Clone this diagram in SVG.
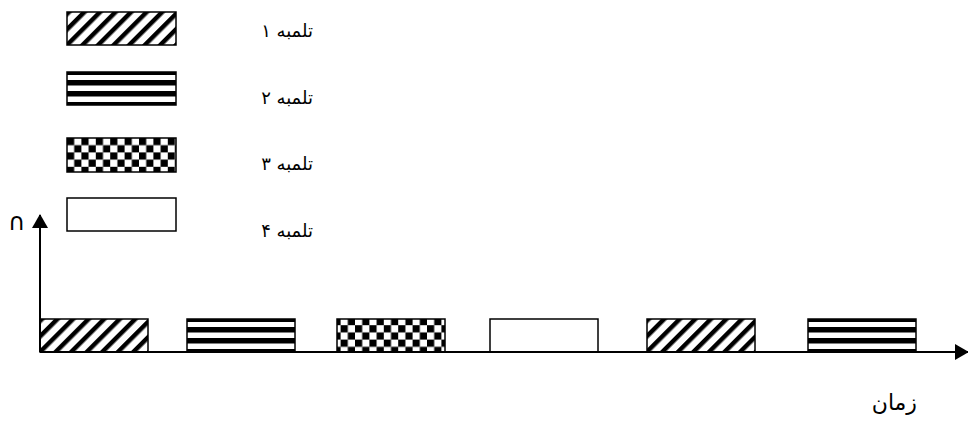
<svg xmlns="http://www.w3.org/2000/svg" width="968" height="421" viewBox="0 0 968 421">
<defs>
<pattern id="diag" patternUnits="userSpaceOnUse" width="11" height="11" patternTransform="rotate(45)">
<rect width="11" height="11" fill="#fff"/>
<rect x="0" y="0" width="4.5" height="11" fill="#000"/>
</pattern>
<pattern id="hstripe" patternUnits="objectBoundingBox" x="0" y="0" width="1" height="1">
<rect x="0" y="0" width="200" height="40" fill="#fff"/>
<rect x="0" y="0" width="200" height="3" fill="#000"/>
<rect x="0" y="8" width="200" height="5.5" fill="#000"/>
<rect x="0" y="19" width="200" height="5.5" fill="#000"/>
<rect x="0" y="30" width="200" height="4" fill="#000"/>
</pattern>
<pattern id="checker" patternUnits="userSpaceOnUse" width="14.4" height="14.4" x="67" y="138">
<rect width="14.4" height="14.4" fill="#fff"/>
<rect x="0" y="0" width="7.2" height="7.2" fill="#000"/>
<rect x="7.2" y="7.2" width="7.2" height="7.2" fill="#000"/>
</pattern>
<marker id="arr" markerWidth="14" markerHeight="16" refX="13" refY="8" orient="auto" markerUnits="userSpaceOnUse">
<path d="M0,0 L14,8 L0,16 Z" fill="#000"/>
</marker>
</defs>
<style>
.box{stroke:#000;stroke-width:1.5}
.lbl{font-family:"DejaVu Sans",sans-serif;font-size:18px;fill:#000}
.ax{stroke:#000;stroke-width:2;fill:none}
</style>
<g id="legend1"><rect class="box" x="67" y="12" width="109" height="33" fill="url(#diag)"/><text class="lbl" x="313" y="37" text-anchor="end">تلمبه ۱</text></g>
<g id="legend2"><rect class="box" x="67" y="72" width="109" height="33" fill="url(#hstripe)"/><text class="lbl" x="313" y="104" text-anchor="end">تلمبه ۲</text></g>
<g id="legend3"><rect class="box" x="67" y="138" width="109" height="34" fill="url(#checker)"/><text class="lbl" x="313" y="170" text-anchor="end">تلمبه ۳</text></g>
<g id="legend4"><rect class="box" x="67" y="198" width="109" height="33" fill="#fff"/><text class="lbl" x="313" y="237" text-anchor="end">تلمبه ۴</text></g>
<g id="timeline">
<rect class="box" x="40" y="319" width="108" height="33" fill="url(#diag)"/>
<rect class="box" x="187" y="319" width="108" height="33" fill="url(#hstripe)"/>
<rect class="box" x="337" y="319" width="108" height="33" fill="url(#checker)"/>
<rect class="box" x="490" y="319" width="108" height="33" fill="#fff"/>
<rect class="box" x="647" y="319" width="108" height="33" fill="url(#diag)"/>
<rect class="box" x="808" y="319" width="108" height="33" fill="url(#hstripe)"/>
</g>
<g id="connectors">
<line class="ax" x1="40" y1="352" x2="40" y2="215" marker-end="url(#arr)"/>
<line class="ax" x1="40" y1="352" x2="968" y2="352" marker-end="url(#arr)"/>
</g>
<text class="lbl" x="8" y="230" style="font-size:24px">∩</text>
<text class="lbl" x="917" y="410" text-anchor="end" style="font-size:22px">زمان</text>
</svg>
